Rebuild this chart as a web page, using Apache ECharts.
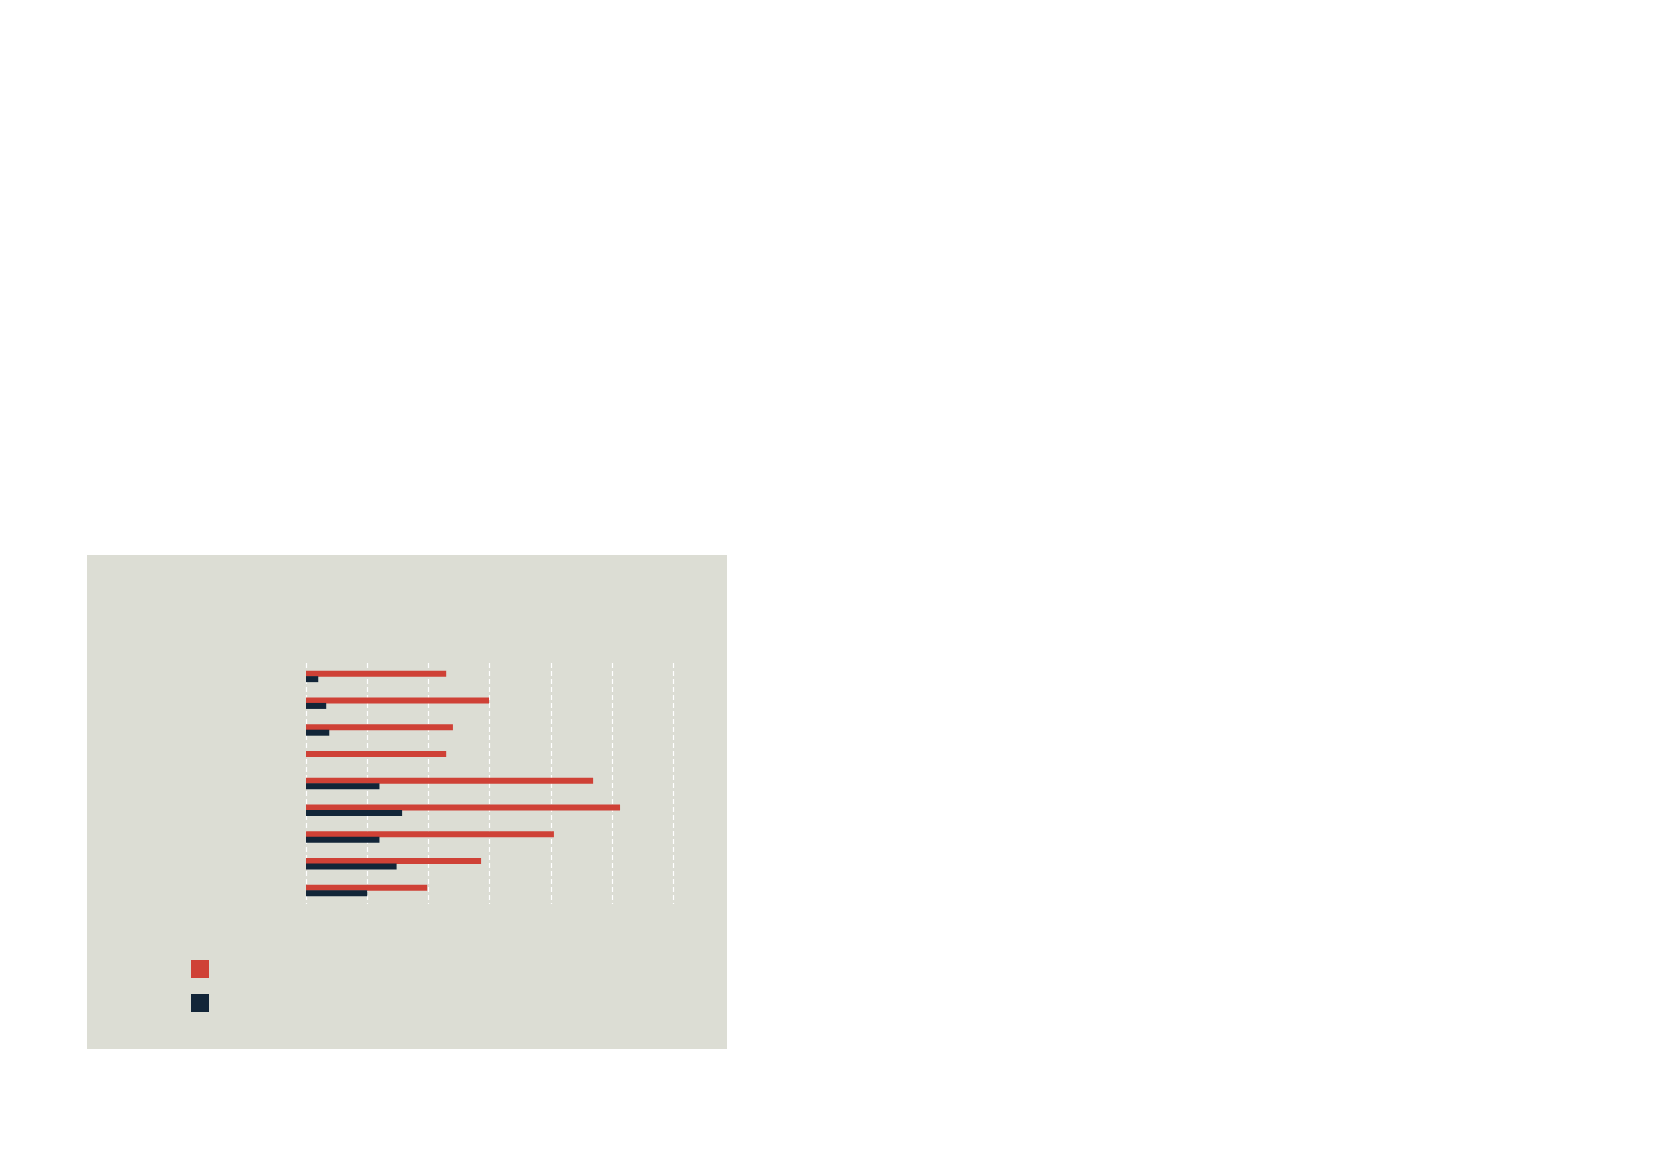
<!DOCTYPE html>
<html>
<head>
<meta charset="utf-8">
<script src="https://cdn.jsdelivr.net/npm/echarts@6/dist/echarts.min.js"></script>
<style>
html,body{margin:0;padding:0;background:#ffffff;}
#chart{width:1654px;height:1169px;}
</style>
</head>
<body>
<div id="chart"></div>
<script>
var categories = ['Category 1','Category 2','Category 3','Category 4','Category 5','Category 6','Category 7','Category 8','Category 9'];
var seriesRedName = 'Series A';
var seriesDarkName = 'Series B';
var redValues = [22.9, 29.9, 24.0, 22.9, 46.9, 51.3, 40.5, 28.6, 19.8];
var darkValues = [2.0, 3.3, 3.8, 0, 12.0, 15.7, 12.0, 14.8, 10.0];
var xTicks = [0, 10, 20, 30, 40, 50, 60];

var chart = echarts.init(document.getElementById('chart'), null, {renderer:'canvas'});
chart.setOption({
  backgroundColor: '#ffffff',
  animation: false,
  graphic: [{
    type: 'rect', z: -10, silent: true,
    shape: {x: 87, y: 555, width: 640, height: 494},
    style: {fill: '#dcddd4'}
  }],
  legend: {
    show: true,
    orient: 'vertical',
    left: 191, top: 960,
    padding: 0,
    itemWidth: 18, itemHeight: 18, itemGap: 16,
    icon: 'rect',
    formatter: function(){ return ''; },
    data: [seriesRedName, seriesDarkName]
  },
  grid: {left: 306, top: 663, width: 367.3, height: 241, containLabel: false},
  xAxis: {
    type: 'value',
    min: xTicks[0], max: xTicks[xTicks.length-1], interval: 10,
    axisLine: {show: false}, axisTick: {show: false}, axisLabel: {show: false},
    splitLine: {show: true, lineStyle: {color: '#ffffff', width: 1.2, type: [5, 3]}}
  },
  yAxis: {
    type: 'category', data: categories, inverse: true,
    axisLine: {show: false}, axisTick: {show: false}, axisLabel: {show: false},
    splitLine: {show: false}
  },
  series: [
    {name: seriesRedName, type: 'bar', data: redValues, barWidth: 6, barGap: '-8%',
     itemStyle: {color: '#cf4136'}},
    {name: seriesDarkName, type: 'bar', data: darkValues, barWidth: 6,
     itemStyle: {color: '#122538'}}
  ]
});
</script>
</body>
</html>
